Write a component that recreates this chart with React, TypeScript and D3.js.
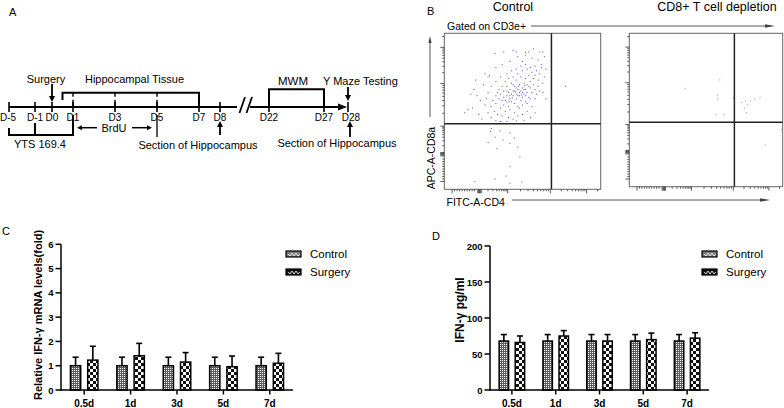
import React from 'react';
import * as d3 from 'd3';

const FONT = "'Liberation Sans', Arial, Helvetica, sans-serif";

// ---------- Panel A (timeline) ----------
const dayTicks = [-5, -1, 0, 1, 3, 5, 7, 8, 22, 27, 28];
const dayLabels = ['D-5', 'D-1', 'D0', 'D1', 'D3', 'D5', 'D7', 'D8', 'D22', 'D27', 'D28'];
const dayKnots = [-5, -1, 0, 8, 22, 27, 28];
const dayKnotPos = [9, 35, 52, 220, 269, 324, 348];

// ---------- Panel B (flow cytometry) ----------
const flowTitles = ['Control', 'CD8+ T cell depletion'];
const gateX = 68.5;
const gateY = 42;
const flowMajor = [5, 22.5, 40.5, 67.8, 91];
const controlDots: [number, number][] = [
  [33,55],[35,58],[36,61],[38,54],[38,63],[39,57],[40,60],[40,66],[41,53],[41,62],[42,58],[42,64],[43,56],[43,68],[44,60],[44,63],[45,55],[45,66],[46,58],[46,61],[46,70],[47,64],[47,53],[48,60],[48,67],[49,57],[49,63],[49,72],[50,59],[50,65],[51,61],[51,68],[52,56],[52,64],[52,71],[53,62],[53,67],[54,59],[54,73],[55,65],[55,69],[56,62],[56,75],[57,67],[57,71],[37,66],[39,69],[41,71],[44,72],[47,74],[50,76],[53,77],[58,73],[59,76],[60,70],[34,62],[36,52],[39,50],[42,51],[45,49],[48,52],[50,54],[53,55],[55,58],[58,64],[60,66],[61,74],[62,78],[38,59],[40,56],[43,61],[45,63],[47,60],[48,62],[50,62],[51,64],[52,60],[54,66],[46,65],[44,67],[42,60],[40,63],[37,57],[35,64],[33,60],[31,57],[30,53],[32,50],[34,48],[37,47],[41,46],[44,45],[47,47],[50,48],[53,50],[56,53],[58,58],[59,61],[61,63],[63,68],[64,72],[62,80],[60,83],[58,79],[55,78],[52,80],[49,79],[46,77],[43,76],[40,74],[36,72],[33,69],[30,66],[28,62],[27,58],[26,54],[28,49],[30,46],[33,44],[36,43.5],[40,43.5],[46,43.8],[51,44],[55,46],[58,49],[23,57],[21,60],[19,64],[17,61],[18,52],[15,51],[13,49],[22,48],[24,45],[25,67],[20,70],[29,73],[33,78],[37,80],[42,82],[47,85],[52,86],[56,84],[61,88],[64,85],[65,77],[63,62],[65,58],[38,88],[44,89],[57,90],[50,82],[54,88],
  [32.4,87],[46,88],[52,87.6],[63,88],[26,74],[28,72],[45.5,62.5],[47.5,66],[43.5,58.5],[49.5,60.5],[51.5,66.5],[41.5,56.5],
  [28,30],[32.4,33.5],[35.6,37.4],[42,36],[45,32.8],[42,29.5],[47,27],[37.6,31.5],[33.6,26],[48.3,20.7],[42,14.5],[19.6,4.9],[32.4,6.6],[39.5,8.5],[42,4],[49.6,4.7],[30,39],[29.5,37],
  [77.6,66]
];
const depletionDots: [number, number][] = [
  [36.3,64.1],[59,69.6],[57.4,59.8],[57.6,57.2],[56.5,47.2],[61.7,47.2],[67.8,58],[73.3,54.8],[76,56],[79.1,56],[82,57],[85.2,58.3],[77.2,53.3],[75,51.1],[76.5,48.3],[99.3,37],[88.6,27.2]
];

// ---------- Panel C (mRNA) ----------
const timepoints = ['0.5d', '1d', '3d', '5d', '7d'];
const groups = ['Control', 'Surgery'];
const mrnaControl = [1, 1, 1, 1, 1];
const mrnaControlErr = [0.35, 0.35, 0.35, 0.35, 0.35];
const mrnaSurgery = [1.23, 1.41, 1.15, 0.96, 1.1];
const mrnaSurgeryErr = [0.57, 0.51, 0.39, 0.44, 0.41];
const mrnaTicks = [0, 1, 2, 3, 4, 5, 6];

// ---------- Panel D (ELISA) ----------
const ifnControl = [68, 68, 68, 68, 68];
const ifnControlErr = [9, 9, 9, 9, 9];
const ifnSurgery = [66, 75, 68, 70, 72];
const ifnSurgeryErr = [9, 7.5, 9, 9, 7.5];
const ifnTicks = [0, 50, 100, 150, 200];

function Arrow({ x1, y1, x2, y2, len = 6, w = 3, stroke = '#000', sw = 1.8 }: any) {
  const ang = Math.atan2(y2 - y1, x2 - x1);
  const bx = x2 - len * Math.cos(ang), by = y2 - len * Math.sin(ang);
  const px = -Math.sin(ang) * w, py = Math.cos(ang) * w;
  return (
    <g>
      <line x1={x1} y1={y1} x2={bx} y2={by} stroke={stroke} strokeWidth={sw} />
      <polygon points={`${x2},${y2} ${bx + px},${by + py} ${bx - px},${by - py}`} fill={stroke} />
    </g>
  );
}

function PanelA() {
  const dx = d3.scaleLinear().domain(dayKnots).range(dayKnotPos);
  const ly = 107;
  const lw = 2;
  return (
    <g fontFamily={FONT} fill="#000">
      <text x={9} y={16} fontSize={11}>A</text>
      <line x1={dx(-5)} y1={ly} x2={237} y2={ly} stroke="#000" strokeWidth={lw} />
      <line x1={250} y1={ly} x2={dx(28) - 8} y2={ly} stroke="#000" strokeWidth={lw} />
      <polygon points={`${dx(28) - 1},${ly} ${dx(28) - 10},${ly - 3.5} ${dx(28) - 10},${ly + 3.5}`} fill="#000" />
      <line x1={239.5} y1={113} x2={245} y2={97} stroke="#000" strokeWidth={1.8} />
      <line x1={246.5} y1={113} x2={252} y2={97} stroke="#000" strokeWidth={1.8} />
      {dayTicks.map((d, i) => (
        <g key={d}>
          <line x1={dx(d)} x2={dx(d)} y1={ly - 5} y2={ly + 5} stroke="#000" strokeWidth={1.6} />
          <text x={dx(d) + (d === 28 ? 3 : d === -5 ? -1 : 0)} y={121} fontSize={10} textAnchor="middle">{dayLabels[i]}</text>
        </g>
      ))}
      <text x={46} y={83} fontSize={11} textAnchor="middle">Surgery</text>
      <Arrow x1={dx(0)} y1={84} x2={dx(0)} y2={102} len={6} w={3} />
      <text x={134.5} y={83} fontSize={11} textAnchor="middle">Hippocampal Tissue</text>
      <path d={`M${dx(0.5)},${100} V${92.7} H${dx(7)} V${ly}`} fill="none" stroke="#000" strokeWidth={lw} />
      {[1, 3, 5].map(d => (
        <line key={d} x1={dx(d)} x2={dx(d)} y1={92.7} y2={ly} stroke="#000" strokeWidth={1.4} strokeDasharray="4 3 10" />
      ))}
      <path d={`M${dx(-5)},128 V135 H${dx(1)} V115`} fill="none" stroke="#000" strokeWidth={lw} />
      <line x1={dx(-1)} x2={dx(-1)} y1={123} y2={135} stroke="#000" strokeWidth={lw} />
      <text x={40} y={148} fontSize={11} textAnchor="middle">YTS 169.4</text>
      <Arrow x1={dx(1) + 24} y1={127.7} x2={dx(1) + 4} y2={127.7} len={5} w={2.5} sw={1.5} />
      <text x={114} y={131.5} fontSize={11} textAnchor="middle">BrdU</text>
      <Arrow x1={dx(5) - 25} y1={127.7} x2={dx(5) - 5} y2={127.7} len={5} w={2.5} sw={1.5} />
      <line x1={dx(5)} x2={dx(5)} y1={115} y2={137} stroke="#000" strokeWidth={1.3} />
      <text x={198} y={149} fontSize={11} textAnchor="middle">Section of Hippocampus</text>
      <Arrow x1={dx(8)} y1={135} x2={dx(8)} y2={121} len={6} w={3} />
      <text x={293} y={85} fontSize={11.5} textAnchor="middle">MWM</text>
      <path d={`M${dx(22)},${ly} V89.3 H${dx(27)} V${ly}`} fill="none" stroke="#000" strokeWidth={lw} />
      <text x={323} y={85} fontSize={11}>Y Maze Testing</text>
      <Arrow x1={dx(28)} y1={87} x2={dx(28)} y2={101} len={6} w={3} />
      <text x={337} y={147} fontSize={11} textAnchor="middle">Section of Hippocampus</text>
      <Arrow x1={dx(28) + 2} y1={137} x2={dx(28) + 2} y2={121} len={6} w={3} />
    </g>
  );
}

function flowTickList() {
  const out: { v: number; major: boolean }[] = flowMajor.map(v => ({ v, major: true }));
  const decades = [[22.5, 40.5], [40.5, 67.8], [67.8, 91], [91, 114]];
  for (const [lo, hi] of decades) {
    for (let k = 2; k < 10; k++) {
      const v = lo + Math.log10(k) * (hi - lo);
      if (v < 99.5) out.push({ v, major: false });
    }
  }
  for (let v = 6.6; v < 21; v += 1.6) out.push({ v, major: false });
  [21.4, 22, 23, 23.6].forEach(v => out.push({ v, major: true }));
  return out;
}

function FlowBox({ x0, x1, y0, y1, dots, color }: any) {
  const sx = d3.scaleLinear().domain([0, 100]).range([x0, x1]);
  const sy = d3.scaleLinear().domain([0, 100]).range([y1, y0]);
  const ticks = flowTickList();
  return (
    <g>
      <rect x={x0} y={y0} width={x1 - x0} height={y1 - y0} fill="#fff" stroke="#666" strokeWidth={1} />
      {dots.map(([x, y]: [number, number], i: number) => (
        <rect key={i} x={sx(x) - 0.55} y={sy(y) - 0.55} width={1.1} height={1.1} fill={color} />
      ))}
      <line x1={sx(gateX)} x2={sx(gateX)} y1={y0} y2={y1} stroke="#222" strokeWidth={1.5} />
      <line x1={x0} x2={x1} y1={sy(gateY)} y2={sy(gateY)} stroke="#222" strokeWidth={1.5} />
      {ticks.map((t, i) => (
        <g key={i}>
          <line x1={x0} x2={x0 - (t.major ? 4 : 2)} y1={sy(t.v)} y2={sy(t.v)} stroke="#333" strokeWidth={0.8} />
          <line y1={y1} y2={y1 + (t.major ? 4 : 2)} x1={sx(t.v)} x2={sx(t.v)} stroke="#333" strokeWidth={0.8} />
        </g>
      ))}
    </g>
  );
}

function PanelB() {
  return (
    <g fontFamily={FONT}>
      <text x={427} y={15} fontSize={11}>B</text>
      <text x={513} y={10.5} fontSize={12.5} textAnchor="middle">{flowTitles[0]}</text>
      <text x={717} y={10.5} fontSize={12.5} textAnchor="middle">{flowTitles[1]}</text>
      <text x={447} y={29.5} fontSize={10.5}>Gated on CD3e+</text>
      <Arrow x1={531} y1={26} x2={775} y2={26} len={10} w={1.8} stroke="#444" sw={0.9} />
      <Arrow x1={430} y1={117} x2={430} y2={36} len={7} w={1.6} stroke="#444" sw={0.9} />
      <text transform="translate(434.5,158) rotate(-90)" fontSize={10.5} textAnchor="middle">APC-A-CD8a</text>
      <text x={446.5} y={206} fontSize={10.5}>FITC-A-CD4</text>
      <Arrow x1={512} y1={200} x2={770} y2={200} len={10} w={1.8} stroke="#444" sw={0.9} />
      <FlowBox x0={444.3} x1={600.7} y0={33.3} y1={189.3} dots={controlDots} color="#6666d4" />
      <FlowBox x0={629.3} x1={782.7} y0={33.3} y1={186.7} dots={depletionDots} color="#9c9cc8" />
    </g>
  );
}

function BarPanel({ letter, letterX, letterY, xRange, yDomain, yRange, yTicks, ctrl, ctrlErr, surg, surgErr, yLabel, yLabelX, yLabelY, yLabelSize, legendX, half }: any) {
  const x = d3.scaleBand<string>().domain(timepoints).range(xRange).padding(0);
  const y = d3.scaleLinear().domain(yDomain).range(yRange);
  const [ax0, ax1] = xRange;
  const y0 = yRange[0];
  const series = [
    { name: groups[0], vals: ctrl, errs: ctrlErr, fill: 'url(#pCtrl)' },
    { name: groups[1], vals: surg, errs: surgErr, fill: 'url(#pSurg)' },
  ];
  return (
    <g fontFamily={FONT}>
      <text x={letterX} y={letterY} fontSize={11}>{letter}</text>
      {timepoints.map((t, i) => {
        const c = x(t)! + x.bandwidth() / 2;
        const inner = d3.scaleBand<string>().domain(groups).range([c - half, c + half]).paddingInner(0.32);
        return (
          <g key={t}>
            {series.map(s => {
              const bx = inner(s.name)!;
              const bw = inner.bandwidth();
              const top = y(s.vals[i]);
              const cap = y(s.vals[i] + s.errs[i]);
              const mx = bx + bw / 2;
              return (
                <g key={s.name}>
                  <line x1={mx} x2={mx} y1={top} y2={cap} stroke="#000" strokeWidth={1.6} />
                  <line x1={mx - 3} x2={mx + 3} y1={cap} y2={cap} stroke="#000" strokeWidth={1.6} />
                  <rect x={bx + 0.75} y={top} width={bw - 1.5} height={y0 - top} fill={s.fill} stroke="#000" strokeWidth={1.5} />
                </g>
              );
            })}
            <line x1={c} x2={c} y1={y0} y2={y0 + 4.5} stroke="#000" strokeWidth={1.5} />
            <text x={c} y={y0 + 16.5} fontSize={10} fontWeight="bold" textAnchor="middle">{t}</text>
          </g>
        );
      })}
      <line x1={ax0} x2={ax0} y1={yRange[1]} y2={y0 + 0.75} stroke="#000" strokeWidth={1.5} />
      <line x1={ax0} x2={ax1} y1={y0} y2={y0} stroke="#000" strokeWidth={1.5} />
      {yTicks.map((v: number) => (
        <g key={v}>
          <line x1={ax0 - 5.5} x2={ax0} y1={y(v)} y2={y(v)} stroke="#000" strokeWidth={1.5} />
          <text x={ax0 - 7.5} y={y(v) + 3.5} fontSize={9.5} fontWeight="bold" textAnchor="end">{v}</text>
        </g>
      ))}
      <text transform={`translate(${yLabelX},${yLabelY}) rotate(-90)`} fontSize={yLabelSize} fontWeight="bold" textAnchor="middle">{yLabel}</text>
      {series.map((s, i) => (
        <g key={s.name}>
          <rect x={legendX} y={251 + i * 18} width={15} height={6} fill={i === 0 ? '#7a7a7a' : '#111'} stroke="#000" strokeWidth={1.2} />
          <polyline points={`${legendX + 2},${254 + i * 18} ${legendX + 4},${256 + i * 18} ${legendX + 6},${253 + i * 18} ${legendX + 8},${256 + i * 18} ${legendX + 10},${253 + i * 18} ${legendX + 12},${256 + i * 18} ${legendX + 14},${254 + i * 18}`} fill="none" stroke="#fff" strokeWidth={0.8} />
          <text x={legendX + 24} y={258 + i * 18} fontSize={11.5}>{s.name}</text>
        </g>
      ))}
    </g>
  );
}

export default function App() {
  return (
    <svg width={784} height={408} viewBox="0 0 784 408" style={{ position: 'absolute', left: 0, top: 0, background: '#fff' }}>
      <defs>
        <pattern id="pCtrl" width="2" height="2" patternUnits="userSpaceOnUse">
          <rect width="2" height="2" fill="#5c5c5c" />
          <rect width="1" height="1" fill="#fff" />
        </pattern>
        <pattern id="pSurg" width="6" height="6" patternUnits="userSpaceOnUse">
          <rect width="6" height="6" fill="#fff" />
          <rect width="3" height="3" fill="#111" />
          <rect x="3" y="3" width="3" height="3" fill="#111" />
        </pattern>
      </defs>
      <rect width={784} height={408} fill="#fff" />
      <PanelA />
      <PanelB />
      <BarPanel letter="C" letterX={2} letterY={235} xRange={[61, 293]} yDomain={[0, 6]} yRange={[390, 244.3]} yTicks={mrnaTicks}
        ctrl={mrnaControl} ctrlErr={mrnaControlErr} surg={mrnaSurgery} surgErr={mrnaSurgeryErr}
        yLabel="Relative IFN-γ mRNA levels(fold)" yLabelX={41.5} yLabelY={315} yLabelSize={11} legendX={286} half={14.5} />
      <BarPanel letter="D" letterX={432} letterY={240} xRange={[490, 709]} yDomain={[0, 200]} yRange={[390, 246]} yTicks={ifnTicks}
        ctrl={ifnControl} ctrlErr={ifnControlErr} surg={ifnSurgery} surgErr={ifnSurgeryErr}
        yLabel="IFN-γ pg/ml" yLabelX={464} yLabelY={310} yLabelSize={12} legendX={702} half={13.5} />
    </svg>
  );
}
